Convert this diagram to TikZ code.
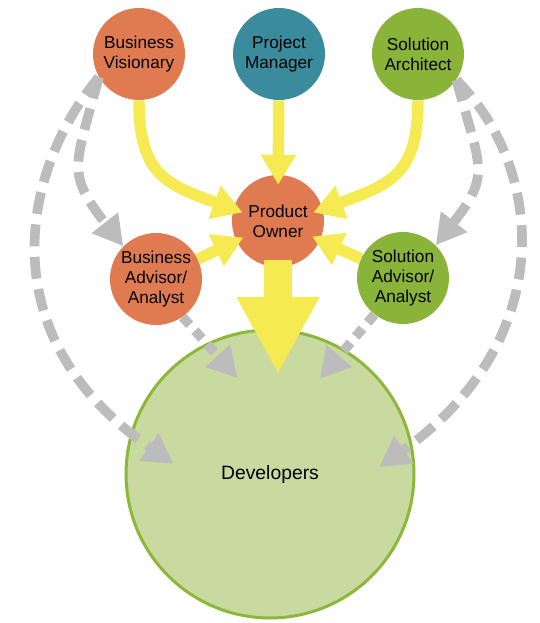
\documentclass[tikz,border=0pt]{standalone}
\usepackage{fontspec}
\setmainfont{Liberation Sans}
\usetikzlibrary{arrows.meta}
\definecolor{orng}{RGB}{224,122,80}
\definecolor{pmblue}{RGB}{58,140,156}
\definecolor{lime}{RGB}{138,179,58}
\definecolor{devfill}{RGB}{200,218,160}
\definecolor{devline}{RGB}{140,184,58}
\definecolor{yel}{RGB}{246,234,82}
\definecolor{gry}{RGB}{188,188,188}

\begin{document}
\begin{tikzpicture}[x=0.02cm,y=0.02cm,
  role/.style={circle,minimum size=1.84cm,inner sep=0pt,align=center,
    font=\fontsize{9.8}{11.5}\selectfont},
  feed/.style={yel,line width=6.5pt,-{Triangle[width=19pt,length=17pt]}},
  advice/.style={gry,line width=5.5pt,dash pattern=on 12.5pt off 6pt,
    -{Triangle[width=18pt,length=17pt]}}]
  \useasboundingbox (0,0) rectangle (539,-623);

  \node[circle,minimum size=5.76cm,fill=devfill,draw=devline,line width=1.7pt,
    font=\fontsize{11}{13}\selectfont] (dev) at (270,-474) {Developers};

  \node[role,fill=orng] (bv) at (139,-54) {Business\\Visionary};
  \node[role,fill=pmblue] (pm) at (279,-54) {Project\\Manager};
  \node[role,fill=lime] (sa) at (418,-54) {Solution\\Architect};
  \node[role,fill=orng] (po) at (278,-221) {Product\\Owner};
  \node[role,fill=orng] (ba) at (156,-279) {Business\\Advisor/\\Analyst};
  \node[role,fill=lime] (sadv) at (403,-278) {Solution\\Advisor/\\Analyst};

  % grey: advice
  \draw[advice] (bv.210) to[out=-105,in=128,looseness=1.4] (ba.135);
  \draw[advice,shorten >=-30pt] (bv.210) .. controls (25,-165) and (-16,-333) .. (dev.164.5);
  \draw[advice,dash pattern=on 6pt off 4.5pt,shorten >=-26.6pt] (ba.-55) -- (dev.116);
  \draw[advice] (sa.-34) to[out=-75,in=52,looseness=1.4] (sadv.45);
  \draw[advice,shorten >=-23pt] (sa.-34) .. controls (546,-170) and (558,-341) .. (dev.12);
  \draw[advice,dash pattern=on 6pt off 4.5pt,shorten >=-22pt] (sadv.-128) -- (dev.59);

  % yellow: input to the product owner
  \draw[feed,shorten >=-5.7pt] (bv.south) to[out=-90,in=160,looseness=1.3] (po.165);
  \draw[feed,shorten >=-5.7pt] (pm) -- (po);
  \draw[feed,shorten >=-5.7pt] (sa.south) to[out=-90,in=20,looseness=1.3] (po.15);
  \draw[feed,shorten >=-4.5pt] (ba) -- (po);
  \draw[feed,shorten >=-5pt] (sadv) -- (po);
  \draw[yel,line width=16pt,-{Triangle[width=44pt,length=44pt]},
    shorten <=22pt,shorten >=-26pt] (po.center) -- (po.center |- dev.north);
\end{tikzpicture}
\end{document}
